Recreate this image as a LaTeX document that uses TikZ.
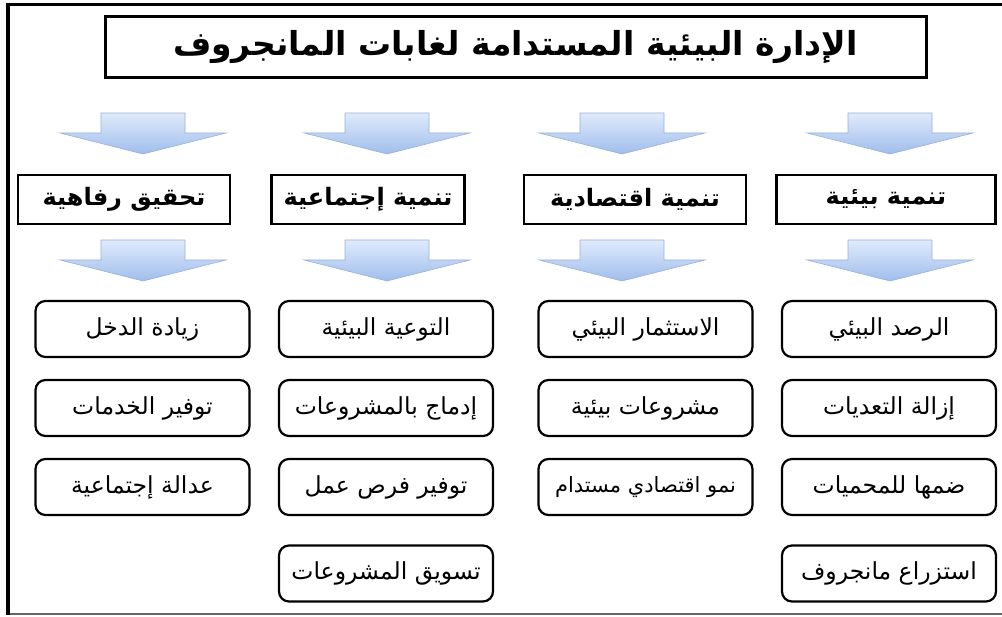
\documentclass[tikz,border=0pt]{standalone}
\usepackage{fontspec}
\newfontfamily\arabicfont[Script=Arabic]{DejaVu Sans}
\TeXXeTstate=1
\usetikzlibrary{shadings}
\definecolor{arrtop}{HTML}{E0EBFB}
\definecolor{arrbot}{HTML}{9FBDEC}
\definecolor{arredge}{HTML}{99B1D9}
\newcommand{\ar}[1]{\raisebox{-2pt}{\arabicfont\beginR #1\endR}}
\tikzset{
  titlebox/.style={draw=black, line width=3pt, minimum width=821pt, minimum height=61pt, inner sep=0pt, font=\arabicfont\bfseries\fontsize{33}{38}\selectfont},
  headbox/.style={draw=black, line width=2.8pt, minimum height=49pt, inner sep=0pt, font=\arabicfont\bfseries\fontsize{24}{28}\selectfont},
  itembox/.style={draw=black, line width=2.2pt, rounded corners=10pt, minimum width=214pt, minimum height=56pt, inner sep=0pt, font=\arabicfont\fontsize{23.5}{28}\selectfont},
  blockarrow/.pic={
    \path[draw=arredge, line width=0.6pt, top color=arrtop, bottom color=arrbot]
      (-42,0) -- (42,0) -- (42,20) -- (83,20) -- (0,41) -- (-83,20) -- (-42,20) -- cycle;
  }
}
\begin{document}
\begin{tikzpicture}[x=1pt, y=-1pt]
\useasboundingbox (0,0) rectangle (1002,617);
% outer frame
\draw[line width=1.5pt, black!60] (8,614) -- (1002,614);
\draw[line width=3pt] (6,4.5) -- (1002,4.5);
\draw[line width=4pt] (8,3) -- (8,615);
% title
\node[titlebox] (title) at (515.5,47) {\ar{الإدارة البيئية المستدامة لغابات المانجروف}};
% arrows row 1
\foreach \x in {143,387,622,890} { \pic at (\x,113) {blockarrow}; }
% header boxes
\node[headbox, minimum width=212pt] (h1) at (124,199.5) {\ar{تحقيق رفاهية}};
\node[headbox, minimum width=193pt] (h2) at (368,199.5) {\ar{تنمية إجتماعية}};
\node[headbox, minimum width=222pt] (h3) at (635,199.5) {\ar{تنمية اقتصادية}};
\node[headbox, minimum width=219pt] (h4) at (886,199.5) {\ar{تنمية بيئية}};
% arrows row 2
\foreach \x in {143,387,622,890} { \pic at (\x,240) {blockarrow}; }
% column 1
\node[itembox] (a1) at (142.5,329) {\ar{زيادة الدخل}};
\node[itembox] (a2) at (142.5,408) {\ar{توفير الخدمات}};
\node[itembox] (a3) at (142.5,487) {\ar{عدالة إجتماعية}};
% column 2
\node[itembox] (b1) at (386,329) {\ar{التوعية البيئية}};
\node[itembox] (b2) at (386,408) {\ar{إدماج بالمشروعات}};
\node[itembox] (b3) at (386,487) {\ar{توفير فرص عمل}};
\node[itembox] (b4) at (386,573.5) {\ar{تسويق المشروعات}};
% column 3
\node[itembox] (c1) at (645.5,329) {\ar{الاستثمار البيئي}};
\node[itembox] (c2) at (645.5,408) {\ar{مشروعات بيئية}};
\node[itembox, font=\arabicfont\fontsize{21}{25}\selectfont] (c3) at (645.5,487) {\ar{نمو اقتصادي مستدام}};
% column 4
\node[itembox] (d1) at (889,329) {\ar{الرصد البيئي}};
\node[itembox] (d2) at (889,408) {\ar{إزالة التعديات}};
\node[itembox] (d3) at (889,487) {\ar{ضمها للمحميات}};
\node[itembox] (d4) at (889,573.5) {\ar{استزراع مانجروف}};
\end{tikzpicture}
\end{document}
